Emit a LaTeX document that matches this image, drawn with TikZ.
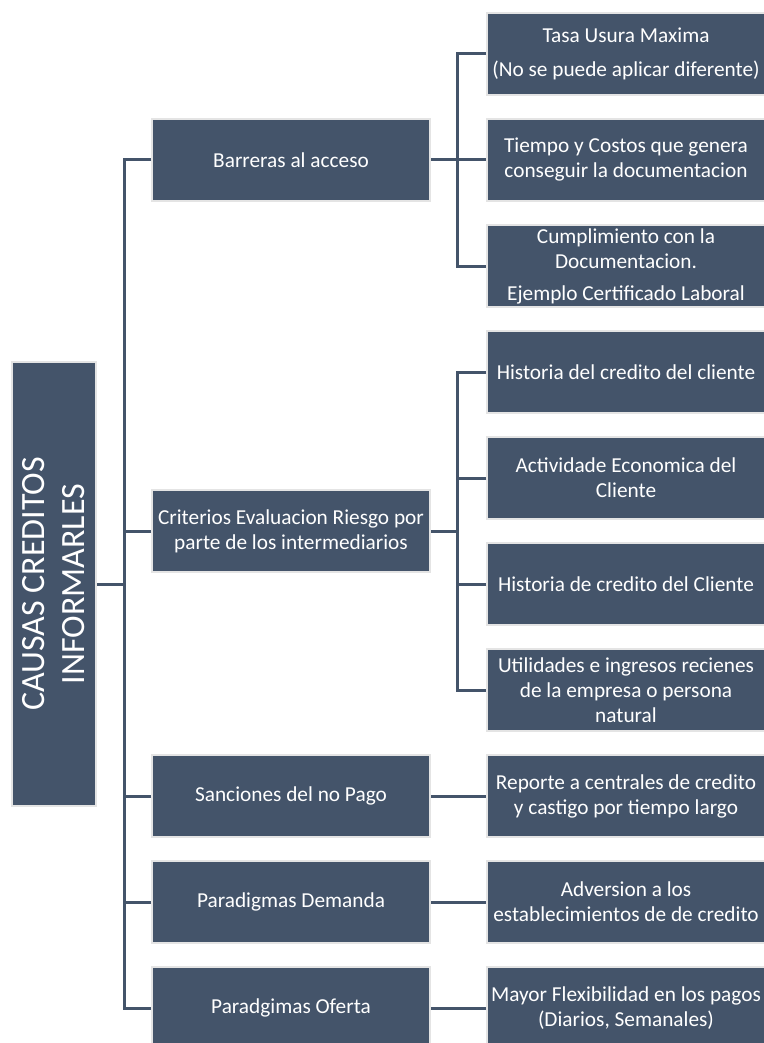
\documentclass[tikz,border=0pt]{standalone}
\usepackage{fontspec}
\setmainfont{Carlito}
\usetikzlibrary{positioning,calc}
\definecolor{slate}{HTML}{44546A}
\definecolor{rim}{HTML}{E4E4E4}

\begin{document}
\begin{tikzpicture}[x=1pt,y=-1pt,
box/.style={draw=rim,line width=2pt,fill=slate,text=white,align=center,inner sep=1pt,font=\fontsize{21.3}{25}\selectfont},
cause/.style={box,minimum width=278pt,minimum height=82pt},
detail/.style={box,minimum width=278pt,minimum height=82pt},
rootbox/.style={box,rotate=90,minimum width=444pt,minimum height=84pt,font=\fontsize{34}{40}\selectfont},
link/.style={draw=slate,line width=3pt}]
\useasboundingbox (0,0) rectangle (763,1043);
% detail column
\node[detail](tasa) at (626,54){Tasa Usura Maxima\\[9pt](No se puede aplicar diferente)};
\node[detail,below=22pt of tasa](tiempo){Tiempo y Costos que genera\\conseguir la documentacion};
\node[detail,below=22pt of tiempo](cumplimiento){Cumplimiento con la\\Documentacion.\\[7pt]Ejemplo Certificado Laboral};
\node[detail,below=22pt of cumplimiento](historia1){Historia del credito del cliente};
\node[detail,below=22pt of historia1](actividad){Actividade Economica del\\Cliente};
\node[detail,below=22pt of actividad](historia2){Historia de credito del Cliente};
\node[detail,below=22pt of historia2](utilidades){Utilidades e ingresos recienes\\de la empresa o persona\\natural};
\node[detail,below=22pt of utilidades](reporte){Reporte a centrales de credito\\y castigo por tiempo largo};
\node[detail,below=22pt of reporte](adversion){Adversion a los\\establecimientos de de credito};
\node[detail,below=22pt of adversion](mayor){Mayor Flexibilidad en los pagos\\(Diarios, Semanales)};
% causes
\node[cause,left=55pt of tiempo](barreras){Barreras al acceso};
\node[cause](criterios) at ($(actividad)!.5!(historia2)-(335,0)$){Criterios Evaluacion Riesgo por\\parte de los intermediarios};
\node[cause,left=55pt of reporte](sanciones){Sanciones del no Pago};
\node[cause,left=55pt of adversion](demanda){Paradigmas Demanda};
\node[cause,left=55pt of mayor](oferta){Paradgimas Oferta};
\node[rootbox](root) at (54,584){CAUSAS CREDITOS\\INFORMARLES};
% connectors
\coordinate(spine) at (124,0);
\coordinate(fork) at (457,0);
\draw[link](root.south)--(spine|-root.south);
\draw[link](barreras.west)-|(spine|-oferta.west)--(oferta.west);
\foreach \n in {criterios,sanciones,demanda}
  \draw[link](\n.west)--(spine|-\n.west);
\draw[link](tasa.west)-|(fork|-cumplimiento.west)--(cumplimiento.west);
\draw[link](barreras.east)--(tiempo.west);
\draw[link](historia1.west)-|(fork|-utilidades.west)--(utilidades.west);
\draw[link](criterios.east)--(fork|-criterios.east);
\foreach \n in {actividad,historia2}
  \draw[link](\n.west)--(fork|-\n.west);
\draw[link](sanciones.east)--(reporte.west);
\draw[link](demanda.east)--(adversion.west);
\draw[link](oferta.east)--(mayor.west);
\end{tikzpicture}
\end{document}
